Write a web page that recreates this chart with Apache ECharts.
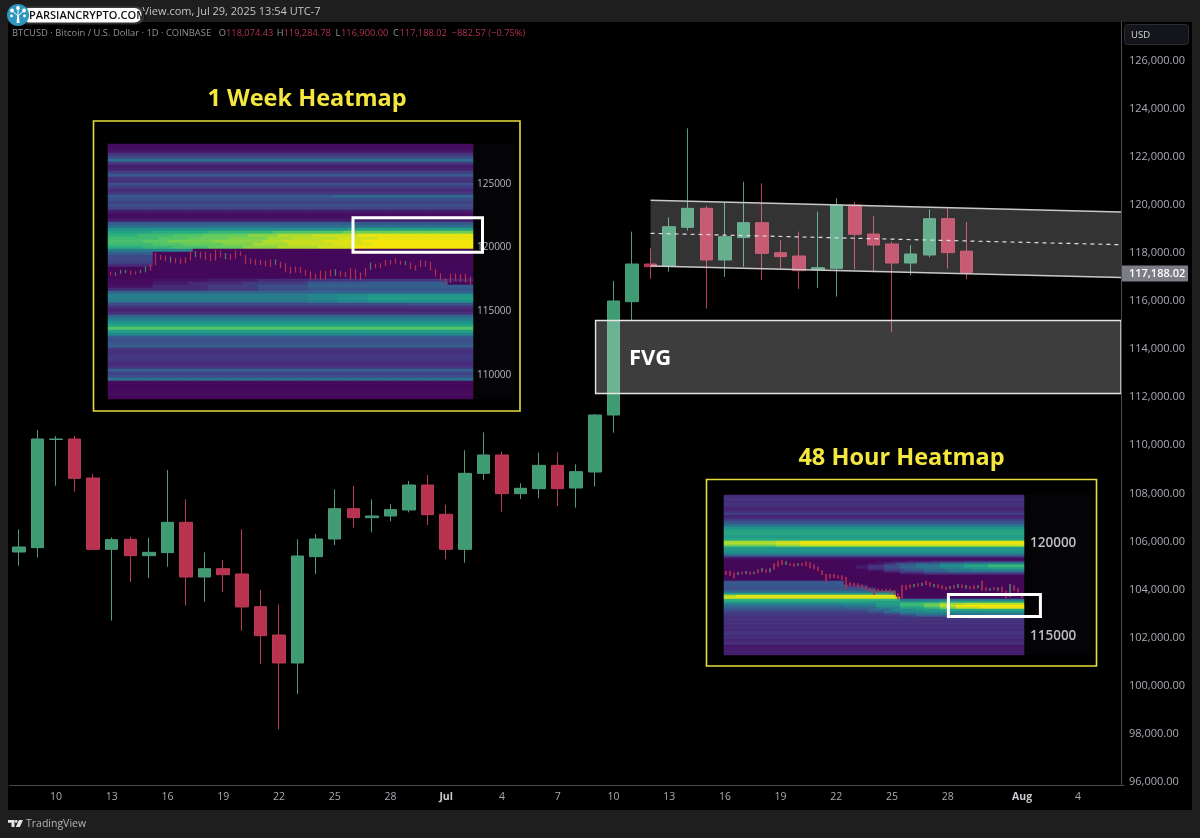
<!DOCTYPE html>
<html>
<head>
<meta charset="utf-8">
<script src="https://cdn.jsdelivr.net/npm/echarts@6/dist/echarts.min.js"></script>
<style>html,body{margin:0;padding:0;background:#1e1e1e}#c{width:1200px;height:838px}</style>
</head>
<body>
<div id="c"></div>
<script>
// ---------- main candles ----------
const candleDates = ["06-08","06-09","06-10","06-11","06-12","06-13","06-14","06-15","06-16","06-17","06-18","06-19","06-20","06-21","06-22","06-23","06-24","06-25","06-26","06-27","06-28","06-29","06-30","07-01","07-02","07-03","07-04","07-05","07-06","07-07","07-08","07-09","07-10","07-11","07-12","07-13","07-14","07-15","07-16","07-17","07-18","07-19","07-20","07-21","07-22","07-23","07-24","07-25","07-26","07-27","07-28","07-29"];
const futureDates = ["07-30","07-31","08-01","08-02","08-03","08-04","08-05","08-06"];
const candleOpen = [105563,105744,110240,110262,108640,105674,106090,105411,105536,106797,104524,104870,104649,103291,102112,100948,105370,106104,107365,106991,107060,107310,108349,107130,105674,108834,109597,107989,108197,109167,108225,108890,111260,115971,117538,117455,119063,119853,117705,118634,119257,118010,117871,117289,117358,119992,118786,118370,117580,117913,119423,118074.43];
const candleClose = [105771,110262,110262,108626,105674,106076,105411,105550,106797,104524,104870,104621,103277,102084,100948,105397,106104,107365,106991,107060,107324,108349,107116,105674,108834,109597,107989,108211,109167,108197,108904,111260,116000,117538,117428,119091,119853,117705,118675,119257,117982,117843,117261,117386,119992,118772,118328,117580,117954,119423,118010,117188.02];
const candleLow = [104995,105342,108322,108072,105650,102708,104316,104482,104954,103332,103498,103900,102293,100906,98190,99659,104649,105855,106575,106381,106839,107213,106686,105259,105120,108557,107240,107767,107795,107476,107407,108280,110524,115210,116929,117220,118924,115681,117000,117428,116873,117344,116499,116540,116180,117317,117192,114711,117067,117816,117344,116900];
const candleHigh = [106506,110636,110387,110387,108807,106173,106201,106159,108973,107753,105550,105231,106506,103983,103387,106090,106312,108169,108308,107753,107559,108516,108765,107531,109791,110539,109735,108419,109694,109708,109209,111300,116832,118882,118190,119479,123180,119950,120103,120962,120893,118536,118883,119714,120269,120130,119534,118467,118328,119812,119839,119284.78];
const priceTicks = [96000,98000,100000,102000,104000,106000,108000,110000,112000,114000,116000,118000,120000,122000,124000,126000];
const dateTickLabels = {"06-10":"10","06-13":"13","06-16":"16","06-19":"19","06-22":"22","06-25":"25","06-28":"28","07-01":"Jul","07-04":"4","07-07":"7","07-10":"10","07-13":"13","07-16":"16","07-19":"19","07-22":"22","07-25":"25","07-28":"28","08-01":"Aug","08-04":"4"};
// ---------- drawn zones (date index, price) ----------
const channelX = [34, 59.32];
const channelTop = [120187, 119701];
const channelMid = [118815, 118341];
const channelBottom = [117455, 116977];
const fvgX = [31.04, 59.32];
const fvgPrice = [115189, 112153];
// ---------- 1 week heatmap ----------
const week1PriceTicks = [110000,115000,120000,125000];
const week1Box = [48.5, 74.4, 122340, 119620];
const week1Rows = [.03,.04,.06,.15,.22,.36,.16,.08,.10,.18,.28,.16,.14,.24,.18,.12,.16,
 [[.28,45],[.33,99]],.24,.2,.24,.2,.08,.04,.04,.08,.28,.36,
 [[.5,48],[.56,99]],
 [[.58,9],[.62,20],[.66,33],[.72,47],[.78,99]],
 [[.64,6],[.68,13],[.72,19],[.76,28],[.82,34],[.88,41],[.92,50],[.98,99]],
 [[.68,10],[.72,16],[.76,24],[.8,32],[.86,37],[.9,46],[.94,54],[.98,99]],
 [[.7,7],[.74,12],[.78,21],[.82,31],[.88,35],[.92,43],[.96,51],[1,99]],
 [[.68,9],[.72,15],[.76,23],[.8,29],[.86,36],[.92,45],[.96,53],[1,99]],
 [[.62,7],[.66,13],[.7,20],[.76,27],[.82,34],[.88,42],[.94,49],[1,99]],
 [[.42,9],[.44,17],[.02,99]],
 [[.3,9],[.02,99]],
 [[.22,9],[.02,99]],
 [[.22,9],[.02,99]],
 [[.2,9],[.02,99]],
 [[.12,9],[.02,99]],
 .02,.02,.02,.02,
 [[.03,9],[.05,20],[.08,30],[.12,40],[.16,68],[.1,99]],
 [[.03,9],[.07,16],[.12,27],[.18,40],[.28,52],[.3,68],[.02,99]],
 [[.05,9],[.12,20],[.18,30],[.24,40],[.3,99]],
 [[.12,20],[.17,30],[.22,40],[.26,99]],
 .32,
 [[.42,40],[.45,46],[.48,52],[.52,99]],
 [[.42,40],[.46,46],[.5,52],[.55,99]],
 [[.38,40],[.42,46],[.46,52],[.5,99]],
 [[.22,60],[.25,99]],
 .14,.1,.14,.33,.42,.5,.58,.72,.56,.46,.28,.24,.26,.3,.15,.14,.16,.17,.14,.12,.16,.3,.2,.24,.36,.03,.02,.02,.03,.03,.02];
const week1TickLow = [117830,117780,117930,117980,117850,117880,117980,118040,118190,118610,119030,118930,118820,118770,118690,118770,118980,119240,119140,119030,118930,118980,119240,119080,119030,119140,119350,118720,118720,118610,118610,118510,118460,118640,118380,118040,117930,118040,117980,117780,117510,117460,117460,117460,117720,117780,117720,117670,117460,117510,117410,117720,118250,118380,118380,118560,118660,118720,118660,118610,118300,118190,118460,118510,118190,117720,117410,117070,117200,117360,117300,117250,117020];
const week1TickHigh = [118090,118040,118250,118250,118190,118120,118250,118510,118720,119560,119420,119350,119290,119190,119160,119240,119760,119710,119660,119690,119560,119820,119760,119560,119500,119760,119690,119420,119160,119080,119030,118980,119080,119080,118900,118770,118510,118510,118460,118250,118120,117930,118190,118140,118250,118300,118140,118090,118400,118300,118040,118400,118820,118720,118770,119030,119030,119140,118980,118930,118820,118610,119030,118980,118900,118300,117980,117590,117930,117980,117930,117930,117720];
const week1TickGreen = [1,2,3,6,7,12,17,23,33,45,52,59];
// ---------- 48 hour heatmap ----------
const hour48PriceTicks = [115000,120000];
const hour48Box = [55.6, 78.6, 117258, 116079];
const hour48Rows = [.12,.14,.16,.12,.15,.14,.1,.1,.14,.2,.1,.12,.18,.26,.3,.4,.5,.55,.58,.6,.56,.54,.62,
 [[.86,13],[.92,19],[.98,99]],
 [[.88,13],[.93,19],[.99,99]],
 [[.75,13],[.82,19],[.88,99]],
 .54,.52,.5,.44,.3,.08,.02,
 [[.02,38],[.05,42],[.08,46],[.12,52],[.16,60],[.2,99]],
 [[.02,36],[.06,40],[.14,43],[.25,48],[.32,54],[.4,60],[.46,66],[.5,99]],
 [[.02,33],[.06,36],[.14,40],[.24,44],[.32,48],[.4,54],[.5,60],[.6,66],[.68,99]],
 [[.02,33],[.08,36],[.15,40],[.24,44],[.32,48],[.38,54],[.45,60],[.52,66],[.58,99]],
 [[.02,36],[.1,40],[.2,45],[.28,50],[.34,56],[.4,62],[.46,99]],
 [[.02,40],[.1,44],[.2,50],[.28,56],[.34,99]],
 [[.02,44],[.08,50],[.14,99]],
 .02,.02,.02,
 [[.26,30],[.02,99]],
 [[.28,30],[.02,99]],
 [[.28,31],[.1,36],[.02,99]],
 [[.24,36],[.08,38],[.02,99]],
 [[.26,38],[.02,99]],
 [[.36,43],[.02,99]],
 [[.55,43],[.02,99]],
 [[.88,3],[.98,43],[.02,99]],
 [[.95,44],[.03,99]],
 [[.65,44],[.38,99]],
 [[.58,36],[.55,44],[.52,54],[.6,99]],
 [[.45,30],[.48,38],[.55,44],[.68,50],[.75,54],[.85,60],[.9,99]],
 [[.36,30],[.4,38],[.52,44],[.66,50],[.78,54],[.9,58],[1,99]],
 [[.3,30],[.34,38],[.44,44],[.56,50],[.66,54],[.8,58],[.92,64],[.98,99]],
 [[.26,36],[.34,42],[.46,48],[.52,54],[.6,99]],
 [[.2,36],[.26,40],[.38,44],[.46,50],[.5,99]],
 [[.18,40],[.24,44],[.34,48],[.4,99]],
 [[.16,44],[.22,48],[.3,99]],
 [[.14,60],[.2,99]],
 .16,.13,.15,.12,.14,.11,.14,.16,.12,.14,.10,.12,.14,.06,.08,.07,.09,.08];
const hour48TickLow = [118300,118250,118130,118300,118340,118360,118320,118360,118390,118480,118430,118430,118570,118750,118840,118840,118790,118750,118790,118800,118790,118660,118610,118520,118300,117960,118110,118140,118110,118040,117540,117680,117680,117640,117570,117500,117390,117230,117360,117360,117360,117320,117230,117000,117050,117500,117590,117640,117680,117710,117770,117680,117640,117610,117540,117500,117540,117570,117610,117610,117570,117540,117540,117590,117460,117460,117460,117500,117460,117360,117050,117140,117460,117360,117070];
const hour48TickHigh = [118520,118520,118430,118480,118480,118520,118480,118480,118610,118680,118610,118660,118930,119070,119110,119040,118930,118930,118930,118960,119020,118980,118880,118750,118570,118360,118360,118360,118290,118290,118210,117930,117890,117860,117790,117680,117610,117570,117570,117540,117570,117570,117500,117320,117770,117750,117790,117820,117860,117890,118000,117930,117820,117790,117750,117680,117710,117770,117820,117790,117770,117710,117750,117770,118000,117640,117610,117640,117640,117680,117460,117820,117770,117590,117320];
const hour48TickGreen = [3,5,7,9,11,15,18,47,49,52,56,58,60,63,66,68,71];

const viridis = ['#440154','#472d7b','#3b528b','#2c728e','#21918c','#28ae80','#5ec962','#addc30','#f4e50c'];
const font = '"Open Sans", sans-serif';
const gridMainLeft = 9.55, gridMainWidth = 1114.8;
const allDates = candleDates.concat(futureDates);

function expandRows(rows, cols) {
  const out = [];
  rows.forEach((row, r) => {
    for (let c = 0; c < cols; c++) {
      let v = row;
      if (Array.isArray(row)) { v = row.find(run => c < run[1])[0]; }
      out.push([c, r, v]);
    }
  });
  return out;
}
const seq = n => Array.from({length: n}, (_, i) => i);

function tickSeries(low, high, green, xi, yi, w, z) {
  return {
    type: 'custom', xAxisIndex: xi, yAxisIndex: yi, silent: true, z: z, animation: false,
    encode: {x: 0, y: [1, 2]},
    data: low.map((v, i) => [i, v, high[i]]),
    renderItem: (params, api) => {
      const a = api.coord([api.value(0), api.value(1)]);
      const b = api.coord([api.value(0), api.value(2)]);
      const isGreen = green.indexOf(params.dataIndex) >= 0;
      return {type: 'rect', shape: {x: a[0] - w / 2, y: b[1], width: w, height: a[1] - b[1]},
        style: {fill: isGreen ? '#4f7f6c' : '#b32f4f'}};
    }
  };
}
function boxSeries(box, xi, yi) {
  return {
    type: 'custom', xAxisIndex: xi, yAxisIndex: yi, silent: true, z: 6, animation: false, clip: false,
    data: [box],
    renderItem: (params, api) => {
      const p = api.coord([box[0], box[2]]), q = api.coord([box[1], box[3]]);
      return {type: 'rect', shape: {x: p[0], y: p[1], width: q[0] - p[0], height: q[1] - p[1]},
        style: {fill: 'none', stroke: '#ffffff', lineWidth: 3}};
    }
  };
}
const hidden = {show: false};
const valueX = (grid, min, max) => ({type: 'value', gridIndex: grid, min, max, show: false, splitLine: hidden, axisLine: {show: false, onZero: false}});
const catAxisHidden = (grid, n, extra) => Object.assign({type: 'category', gridIndex: grid, data: seq(n), show: false, boundaryGap: true, axisLine: {show: false, onZero: false}}, extra || {});

const option = {
  animation: false,
  backgroundColor: '#1e1e1e',
  textStyle: {fontFamily: font},
  grid: [
    {left: gridMainLeft, top: 22, width: gridMainWidth, height: 763, containLabel: false},
    {left: 108, top: 144, width: 365, height: 255},
    {left: 724, top: 495, width: 300, height: 160}
  ],
  xAxis: [
    {type: 'category', gridIndex: 0, data: allDates, boundaryGap: true, z: 5,
     axisLine: {onZero: false, lineStyle: {color: '#4a4a4a'}}, axisTick: hidden, splitLine: hidden,
     axisLabel: {color: '#a9abb2', fontSize: 10.5, fontFamily: font, margin: 7, hideOverlap: false,
       interval: (i, v) => v in dateTickLabels,
       formatter: v => { const t = dateTickLabels[v]; return (t === 'Jul' || t === 'Aug') ? '{b|' + t + '}' : t; },
       rich: {b: {fontWeight: 'bold', color: '#c8cad0', fontSize: 10.5, fontFamily: font}}}},
    valueX(0, -0.5, 59.5),
    catAxisHidden(1, 73), valueX(1, -0.5, 72.5),
    catAxisHidden(2, 75), valueX(2, -0.5, 74.5)
  ],
  yAxis: [
    {type: 'value', gridIndex: 0, position: 'right', offset: -3.35, min: 95875, max: 127601, splitLine: hidden, z: 5,
     axisLine: {show: true, onZero: false, lineStyle: {color: '#4a4a4a'}}, axisTick: hidden,
     axisLabel: {customValues: priceTicks, color: '#a9abb2', fontSize: 11, fontFamily: font, margin: 8,
       formatter: v => v.toLocaleString('en-US', {minimumFractionDigits: 2, maximumFractionDigits: 2})}},
    catAxisHidden(1, week1Rows.length, {inverse: true}),
    {type: 'value', gridIndex: 1, position: 'right', min: 108088, max: 128142, splitLine: hidden, z: 5,
     axisLine: {show: false, onZero: false}, axisTick: hidden,
     axisLabel: {customValues: week1PriceTicks, color: '#b7b9bd', fontSize: 10, fontFamily: font, margin: 4, formatter: v => String(v)}},
    catAxisHidden(2, hour48Rows.length, {inverse: true}),
    {type: 'value', gridIndex: 2, position: 'right', min: 114017, max: 122587, splitLine: hidden, z: 5,
     axisLine: {show: false, onZero: false}, axisTick: hidden,
     axisLabel: {customValues: hour48PriceTicks, color: '#bdbfc2', fontSize: 13.5, fontWeight: 600, fontFamily: font, margin: 6, formatter: v => String(v)}}
  ],
  visualMap: [{type: 'continuous', show: false, min: 0, max: 1, seriesIndex: [0, 1], dimension: 2, inRange: {color: viridis}}],
  series: [
    {type: 'heatmap', xAxisIndex: 2, yAxisIndex: 1, data: expandRows(week1Rows, 73), silent: true, progressive: 0, z: 2},
    {type: 'heatmap', xAxisIndex: 4, yAxisIndex: 3, data: expandRows(hour48Rows, 75), silent: true, progressive: 0, z: 2},
    tickSeries(week1TickLow, week1TickHigh, week1TickGreen, 3, 2, 1.2, 3),
    tickSeries(hour48TickLow, hour48TickHigh, hour48TickGreen, 5, 4, 1.6, 3),
    boxSeries(week1Box, 3, 2),
    boxSeries(hour48Box, 5, 4),
    {type: 'candlestick', xAxisIndex: 0, yAxisIndex: 0, barWidth: 13, silent: true, z: 3, clip: false,
     data: candleOpen.map((o, i) => [o, candleClose[i], candleLow[i], candleHigh[i]]),
     itemStyle: {color: '#3f9b72', color0: '#b93350', borderColor: '#4d9b7a', borderColor0: '#b93a55', borderWidth: 1}},
    {type: 'custom', xAxisIndex: 1, yAxisIndex: 0, silent: true, z: 4, clip: false, data: [0],
     renderItem: (params, api) => {
       const tl = api.coord([channelX[0], channelTop[0]]), tr = api.coord([channelX[1], channelTop[1]]);
       const bl = api.coord([channelX[0], channelBottom[0]]), br = api.coord([channelX[1], channelBottom[1]]);
       const ml = api.coord([channelX[0], channelMid[0]]), mr = api.coord([channelX[1], channelMid[1]]);
       const f0 = api.coord([fvgX[0], fvgPrice[0]]), f1 = api.coord([fvgX[1], fvgPrice[1]]);
       const edge = {stroke: '#c9c9c9', lineWidth: 1.4};
       return {type: 'group', children: [
         {type: 'polygon', shape: {points: [tl, tr, br, bl]}, style: {fill: 'rgba(255,255,255,0.2)'}},
         {type: 'line', shape: {x1: tl[0], y1: tl[1], x2: tr[0], y2: tr[1]}, style: edge},
         {type: 'line', shape: {x1: bl[0], y1: bl[1], x2: br[0], y2: br[1]}, style: edge},
         {type: 'line', shape: {x1: ml[0], y1: ml[1], x2: mr[0], y2: mr[1]},
          style: {stroke: '#dedede', lineWidth: 1.2, lineDash: [4, 4]}},
         {type: 'rect', shape: {x: f0[0], y: f0[1], width: f1[0] - f0[0], height: f1[1] - f0[1]},
          style: {fill: 'rgba(255,255,255,0.24)', stroke: '#e6e6e6', lineWidth: 1.4}}
       ]};
     }}
  ],
  graphic: [
    {type: 'rect', z: -2, shape: {x: 8, y: 22, width: 1184, height: 788}, style: {fill: '#000'}},
    {type: 'rect', z: -1, shape: {x: 473, y: 144, width: 43, height: 255}, style: {fill: '#040407'}},
    {type: 'rect', z: -1, shape: {x: 1024, y: 495, width: 66, height: 160}, style: {fill: '#040407'}},
    {type: 'rect', z: -1, shape: {x: 93.5, y: 121, width: 426.5, height: 290}, style: {fill: 'none', stroke: '#e8dc3c', lineWidth: 1.6}},
    {type: 'rect', z: -1, shape: {x: 706.5, y: 479.5, width: 390, height: 186.5}, style: {fill: 'none', stroke: '#e8dc3c', lineWidth: 1.6}},
    {type: 'text', z: 20, style: {x: 307, y: 99, text: '1 Week Heatmap', fill: '#f3e63e', font: 'bold 23.5px ' + font, textAlign: 'center', textVerticalAlign: 'middle'}},
    {type: 'text', z: 20, style: {x: 901.5, y: 458.5, text: '48 Hour Heatmap', fill: '#f3e63e', font: 'bold 23.5px ' + font, textAlign: 'center', textVerticalAlign: 'middle'}},
    {type: 'text', z: 20, style: {x: 629, y: 359, text: 'FVG', fill: '#ffffff', font: 'bold 22px ' + font, textVerticalAlign: 'middle'}},
    // legend line
    {type: 'text', z: 20, style: {x: 12, y: 33, text: 'BTCUSD · Bitcoin / U.S. Dollar · 1D · COINBASE', fill: '#8f929a', font: '9.4px ' + font, textVerticalAlign: 'middle'}},
    ...[['O', 218.7, '118,074.43', 226], ['H', 276.7, '119,284.78', 283.5], ['L', 335.6, '116,900.00', 341], ['C', 393, '117,188.02', 399.5]].flatMap(p => [
      {type: 'text', z: 20, style: {x: p[1], y: 33, text: p[0], fill: '#8f929a', font: '9.3px ' + font, textVerticalAlign: 'middle'}},
      {type: 'text', z: 20, style: {x: p[3], y: 33, text: p[2], fill: '#b0324e', font: '9.3px ' + font, textVerticalAlign: 'middle'}}
    ]),
    {type: 'text', z: 20, style: {x: 451.6, y: 33, text: '−882.57 (−0.75%)', fill: '#b0324e', font: '9.3px ' + font, textVerticalAlign: 'middle'}},
    // top bar
    {type: 'text', z: 20, style: {x: 142.5, y: 12, text: 'View.com, Jul 29, 2025 13:54 UTC-7', fill: '#c4c4c4', font: '11px ' + font, textVerticalAlign: 'middle'}},
    {type: 'rect', z: 21, shape: {x: 20, y: 6.5, width: 124, height: 18, r: 8}, style: {fill: 'rgba(90,90,90,0.5)'}},
    {type: 'rect', z: 22, shape: {x: 22, y: 8, width: 119.5, height: 14.5, r: 7}, style: {fill: '#ffffff'}},
    {type: 'text', z: 23, style: {x: 29, y: 15.5, text: 'PARSIANCRYPTO.COM', fill: '#111', font: '600 11px ' + font, textVerticalAlign: 'middle'}},
    {type: 'circle', z: 24, shape: {cx: 18, cy: 15, r: 11}, style: {fill: '#2e97bf'}},
    {type: 'polygon', z: 25, shape: {points: [[16.6, 23], [19.6, 23], [18.8, 15], [17.3, 15]]}, style: {fill: '#fff'}},
    {type: 'line', z: 25, shape: {x1: 18, y1: 16, x2: 12.5, y2: 11}, style: {stroke: '#fff', lineWidth: 1}},
    {type: 'line', z: 25, shape: {x1: 18, y1: 16, x2: 23.5, y2: 11}, style: {stroke: '#fff', lineWidth: 1}},
    {type: 'line', z: 25, shape: {x1: 18, y1: 16, x2: 18, y2: 8.5}, style: {stroke: '#fff', lineWidth: 1}},
    {type: 'circle', z: 25, shape: {cx: 12, cy: 10.5, r: 1.9}, style: {fill: '#fff'}},
    {type: 'circle', z: 25, shape: {cx: 24, cy: 10.5, r: 1.9}, style: {fill: '#fff'}},
    {type: 'circle', z: 25, shape: {cx: 18, cy: 8, r: 1.9}, style: {fill: '#fff'}},
    {type: 'circle', z: 25, shape: {cx: 11.5, cy: 16, r: 1.4}, style: {fill: '#fff'}},
    {type: 'circle', z: 25, shape: {cx: 24.5, cy: 16, r: 1.4}, style: {fill: '#fff'}},
    // y-axis widgets
    {type: 'rect', z: 20, shape: {x: 1124.5, y: 24.5, width: 64, height: 20, r: 3}, style: {fill: '#13151a', stroke: '#2b2d33', lineWidth: 1}},
    {type: 'text', z: 21, style: {x: 1131, y: 35, text: 'USD', fill: '#d4d4d4', font: '9.5px ' + font, textVerticalAlign: 'middle'}},
    {type: 'rect', z: 20, shape: {x: 1122, y: 265.5, width: 66, height: 16}, style: {fill: '#7b7c85'}},
    {type: 'text', z: 21, style: {x: 1129, y: 273.7, text: '117,188.02', fill: '#ffffff', font: '600 11px ' + font, textVerticalAlign: 'middle'}},
    // TradingView mark
    {type: 'polygon', z: 20, shape: {points: [[8, 820], [14.5, 820], [14.5, 827], [11.5, 827], [11.5, 822.8], [8, 822.8]]}, style: {fill: '#e6e6e6'}},
    {type: 'circle', z: 20, shape: {cx: 16.2, cy: 821.4, r: 1.4}, style: {fill: '#e6e6e6'}},
    {type: 'polygon', z: 20, shape: {points: [[19, 820], [23, 820], [19.8, 827], [15.8, 827]]}, style: {fill: '#e6e6e6'}},
    {type: 'text', z: 20, style: {x: 26, y: 824, text: 'TradingView', fill: '#b4b4b4', font: '10.5px ' + font, textVerticalAlign: 'middle'}}
  ]
};
echarts.init(document.getElementById('c'), null, {renderer: 'canvas'}).setOption(option);
</script>
</body>
</html>
